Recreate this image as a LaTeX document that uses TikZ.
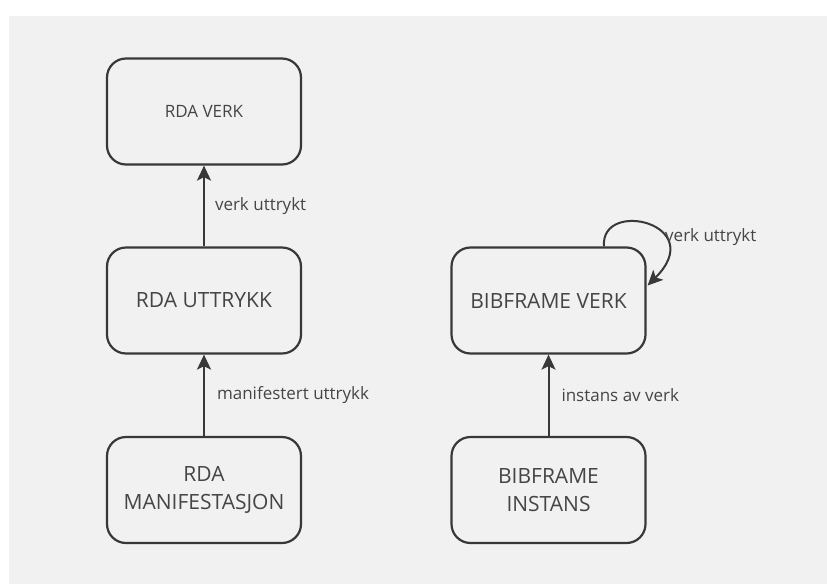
\documentclass[tikz,border=0pt]{standalone}
\usepackage{fontspec}
\setmainfont{Open Sans}
\usetikzlibrary{arrows.meta}
\definecolor{canvas}{HTML}{F1F1F1}
\definecolor{ink}{HTML}{383838}
\definecolor{txt}{HTML}{454545}
\tikzset{
  entity/.style={draw=ink, line width=2.2pt, rounded corners=19pt, fill=canvas,
    minimum width=194pt, minimum height=106pt, inner sep=0pt, align=center,
    text=txt, font=\fontsize{21}{28}\selectfont},
  small/.style={font=\fontsize{17}{22}\selectfont},
  rel/.style={draw=ink, line width=2pt, -{Stealth[length=15pt,width=14pt,inset=3.5pt]}},
  rellabel/.style={text=txt, font=\fontsize{17}{20}\selectfont, anchor=west, inner sep=0pt}
}
\begin{document}
\begin{tikzpicture}[x=1pt,y=-1pt]
  \useasboundingbox (0,0) rectangle (827,584);
  \fill[white] (0,0) rectangle (827,584);
  \fill[canvas] (9,16) rectangle (827,584);

  % left column: RDA entities
  \node[entity, small] (rdaverk) at (204,111.5) {RDA VERK};
  \node[entity] (rdautt) at (204,300.5) {RDA UTTRYKK};
  \node[entity] (rdaman) at (204,490) {RDA\\MANIFESTASJON};

  % right column: BIBFRAME entities
  \node[entity] (bfverk) at (548.5,300.5) {BIBFRAME VERK};
  \node[entity] (bfinst) at (548.5,490) {BIBFRAME\\INSTANS};

  % relations
  \draw[rel] (rdautt) -- node[rellabel, xshift=10pt] (l1) {verk uttrykt} (rdaverk);
  \draw[rel] (rdaman) -- node[rellabel, xshift=12pt] (l2) {manifestert uttrykk} (rdautt);
  \draw[rel] (bfinst) -- node[rellabel, xshift=12pt] (l3) {instans av verk} (bfverk);

  % self relation on BIBFRAME VERK
  \coordinate (loopstart) at ([xshift=55.5pt]bfverk.north);
  \coordinate (loopend) at ([xshift=1pt,yshift=15pt]bfverk.east);
  \draw[rel] (loopstart) .. controls +(-4,-48) and +(62,-62) .. (loopend);
  \node[rellabel] (l4) at (665,237) {verk uttrykt};
\end{tikzpicture}
\end{document}
